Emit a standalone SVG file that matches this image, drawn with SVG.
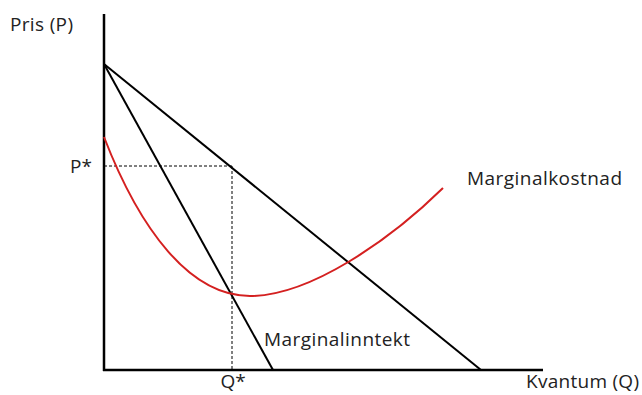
<svg xmlns="http://www.w3.org/2000/svg" width="642" height="395" viewBox="0 0 642 395">
<style>
text{font-family:"Open Sans","Liberation Sans",sans-serif;font-size:19px;fill:#222}
.ax{stroke:#000;stroke-width:2.5;fill:none}
.ln{stroke:#000;stroke-width:2;fill:none}
.dash{stroke:#000;stroke-width:1;stroke-dasharray:3,2;fill:none}
.mc{stroke:#d42020;stroke-width:2;fill:none}
</style>
<rect width="642" height="395" fill="#fff"/>
<g id="axes">
<line class="ax" x1="104" y1="14" x2="104" y2="371"/>
<line class="ax" x1="103" y1="370" x2="543" y2="370"/>
</g>
<g id="connectors">
<line class="dash" x1="104" y1="166" x2="232" y2="166"/>
<line class="dash" x1="232" y1="166" x2="232" y2="370"/>
</g>
<g id="demand"><line class="ln" x1="104" y1="64" x2="481" y2="370"/></g>
<g id="mr"><line class="ln" x1="104" y1="64" x2="273" y2="370"/></g>
<g id="mc"><path class="mc" d="M104,137 C140,230 190,296 250,296 C310,296 390,240 443,188"/></g>
<g id="labels">
<text x="10" y="31" textLength="63">Pris (P)</text>
<text x="70" y="173">P*</text>
<text x="233" y="388" text-anchor="middle">Q*</text>
<text x="526" y="388" textLength="113">Kvantum (Q)</text>
<text x="467" y="185" textLength="155">Marginalkostnad</text>
<text x="264" y="346" textLength="146">Marginalinntekt</text>
</g>
</svg>
